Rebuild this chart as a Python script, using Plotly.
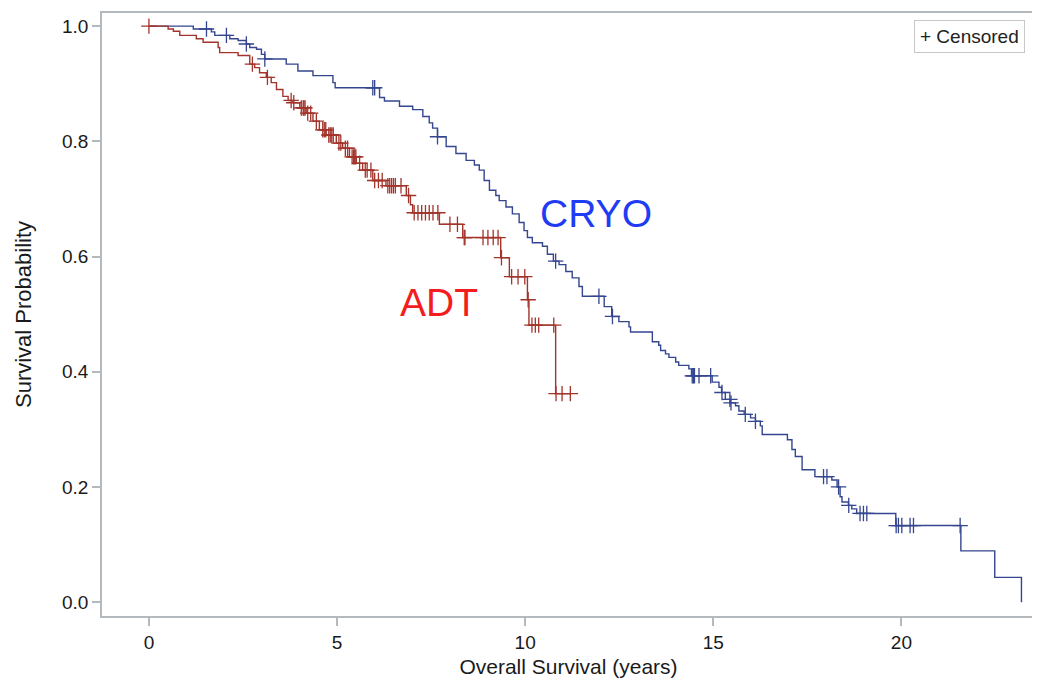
import numpy as np
import plotly.graph_objects as go

# ---- data (years, survival probability) ----
cryo_event_t = [1.18, 1.66, 1.75, 2.15, 2.37, 2.59, 2.68, 2.86, 2.99, 3.08, 3.65, 3.96, 4.36, 4.89, 4.95,
                6.13, 6.26, 6.66, 7.01, 7.28, 7.45, 7.54, 7.67, 7.90, 8.16, 8.43, 8.65, 8.78, 8.91, 9.05,
                9.22, 9.31, 9.49, 9.66, 9.84, 9.97, 10.06, 10.19, 10.46, 10.59, 10.75, 10.90, 11.08, 11.25,
                11.43, 11.52, 12.10, 12.30, 12.49, 12.76, 12.80, 13.38, 13.55, 13.60, 13.73, 13.82, 14.00,
                14.08, 14.35, 14.42, 14.97, 15.15, 15.22, 15.32, 15.45, 15.59, 15.68, 15.82, 15.99, 16.12,
                16.25, 16.30, 16.97, 17.09, 17.18, 17.36, 17.70, 18.15, 18.29, 18.37, 18.42, 18.59, 18.68,
                18.81, 19.85, 21.58, 22.48, 23.19]
cryo_event_s = [0.995, 0.990, 0.984, 0.978, 0.975, 0.969, 0.963, 0.960, 0.951, 0.943, 0.934, 0.922, 0.914, 0.902, 0.893,
                0.876, 0.870, 0.861, 0.855, 0.843, 0.832, 0.823, 0.808, 0.791, 0.779, 0.767, 0.759, 0.750, 0.732, 0.715,
                0.706, 0.697, 0.686, 0.674, 0.659, 0.645, 0.633, 0.624, 0.618, 0.604, 0.592, 0.586, 0.574, 0.563,
                0.548, 0.531, 0.513, 0.496, 0.487, 0.478, 0.469, 0.452, 0.446, 0.437, 0.431, 0.425, 0.417,
                0.411, 0.405, 0.393, 0.382, 0.373, 0.364, 0.352, 0.346, 0.341, 0.332, 0.326, 0.320, 0.314,
                0.306, 0.291, 0.282, 0.265, 0.253, 0.230, 0.218, 0.212, 0.200, 0.183, 0.174, 0.168, 0.162,
                0.154, 0.133, 0.089, 0.043, 0.0]
cryo_censor_t = [1.53, 2.06, 2.59, 3.08, 5.95, 6.00, 7.67, 10.81, 11.96, 12.32, 14.44, 14.47, 14.50, 14.62,
                 14.93, 15.23, 15.44, 15.47, 15.85, 16.12, 17.93, 18.02, 18.33, 18.60, 18.90, 18.99, 19.08,
                 19.86, 19.92, 20.01, 20.23, 20.32, 21.56]

adt_event_t = [0.51, 0.65, 0.82, 1.26, 1.44, 1.84, 1.88, 2.37, 2.68, 2.81, 2.94, 3.12, 3.25, 3.39, 3.56, 3.70,
               3.83, 4.01, 4.18, 4.36, 4.53, 4.71, 4.98, 5.15, 5.33, 5.51, 5.68, 5.95, 6.30, 6.84, 6.95, 7.01,
               7.72, 8.34, 9.35, 9.58, 10.06, 10.10, 10.81]
adt_event_s = [0.995, 0.991, 0.984, 0.978, 0.972, 0.963, 0.954, 0.949, 0.934, 0.928, 0.919, 0.911, 0.902, 0.890,
               0.878, 0.871, 0.867, 0.858, 0.849, 0.835, 0.820, 0.811, 0.797, 0.788, 0.773, 0.762, 0.750, 0.732,
               0.723, 0.706, 0.690, 0.676, 0.656, 0.633, 0.598, 0.565, 0.525, 0.481, 0.362]
adt_censor_t = [0.0, 2.75, 3.15, 3.78, 3.85, 4.05, 4.10, 4.12, 4.15, 4.22, 4.30, 4.45, 4.62, 4.66, 4.70, 4.78,
                4.82, 4.86, 4.90, 5.05, 5.10, 5.22, 5.28, 5.40, 5.44, 5.47, 5.50, 5.60, 5.75, 5.80, 5.90, 6.00,
                6.10, 6.20, 6.35, 6.40, 6.45, 6.50, 6.55, 6.70, 6.90, 7.05, 7.15, 7.25, 7.35, 7.45, 7.55, 7.68,
                8.00, 8.20, 8.38, 8.40, 8.88, 9.01, 9.15, 9.28, 9.37, 9.64, 9.81, 9.99, 10.08, 10.18, 10.27,
                10.36, 10.76, 10.82, 10.98, 11.20]

x_ticks = [0, 5, 10, 15, 20]
y_ticks = [0.0, 0.2, 0.4, 0.6, 0.8, 1.0]

CRYO_COLOR = "#34468f"
ADT_COLOR = "#a2342b"
FONT = "Liberation Sans, Arial, sans-serif"


def surv_at(times, ev_t, ev_s):
    ev_t = np.asarray(ev_t)
    ev_s = np.asarray(ev_s)
    idx = np.searchsorted(ev_t, np.asarray(times), side="right") - 1
    return np.where(idx >= 0, ev_s[np.clip(idx, 0, None)], 1.0)


def step_xy(ev_t, ev_s, end_t):
    xs = [0.0] + list(ev_t)
    ys = [1.0] + list(ev_s)
    if end_t > xs[-1]:
        xs.append(end_t)
        ys.append(ys[-1])
    return xs, ys


fig = go.Figure()

for ev_t, ev_s, cen_t, color, name in [
    (cryo_event_t, cryo_event_s, cryo_censor_t, CRYO_COLOR, "CRYO"),
    (adt_event_t, adt_event_s, adt_censor_t, ADT_COLOR, "ADT"),
]:
    end_t = max(max(ev_t), max(cen_t))
    xs, ys = step_xy(ev_t, ev_s, end_t)
    fig.add_trace(go.Scatter(x=xs, y=ys, mode="lines", line=dict(color=color, width=1.4, shape="hv"),
                             name=name, showlegend=False, hoverinfo="skip"))
    fig.add_trace(go.Scatter(x=cen_t, y=surv_at(cen_t, ev_t, ev_s), mode="markers",
                             marker=dict(symbol="cross-thin", size=11, line=dict(color=color, width=1.3)),
                             name=name + " censored", showlegend=False))

fig.add_annotation(x=11.88, y=0.674, text="CRYO", showarrow=False,
                   font=dict(family=FONT, size=39, color="#1f3cf5"))
fig.add_annotation(x=7.72, y=0.520, text="ADT", showarrow=False,
                   font=dict(family=FONT, size=39, color="#f41c1c"))
fig.add_annotation(xref="paper", yref="paper", x=0.9895, y=0.989, xanchor="right", yanchor="top",
                   text="+ Censored", showarrow=False, bordercolor="#c8c8c8", borderwidth=1, borderpad=5,
                   bgcolor="white", font=dict(family=FONT, size=19, color="#222222"))

axis_common = dict(showline=True, linecolor="#b4b9bd", linewidth=1.5, mirror=True, ticks="outside",
                   ticklen=8, tickcolor="#b4b9bd", tickwidth=1.5, showgrid=False, zeroline=False,
                   tickfont=dict(family=FONT, size=19, color="#1a1a1a"))

# the page body adds an 8px margin, so the figure is 8px smaller and shifted accordingly
fig.update_layout(
    width=1032, height=676,
    margin=dict(l=94, r=3, t=3, b=68),
    paper_bgcolor="white", plot_bgcolor="white",
    font=dict(family=FONT),
    xaxis=dict(range=[-1.247, 23.55], tickvals=x_ticks, ticktext=[str(v) for v in x_ticks],
               title=dict(text="Overall Survival (years)", font=dict(family=FONT, size=21, color="#1a1a1a"),
                          standoff=8),
               **axis_common),
    yaxis=dict(range=[-0.024, 1.0228], tickvals=y_ticks, ticktext=[f"{v:.1f}" for v in y_ticks],
               title=dict(text="Survival Probability", font=dict(family=FONT, size=22, color="#1a1a1a"),
                          standoff=24),
               **axis_common),
)

fig.write_html("out.html")
